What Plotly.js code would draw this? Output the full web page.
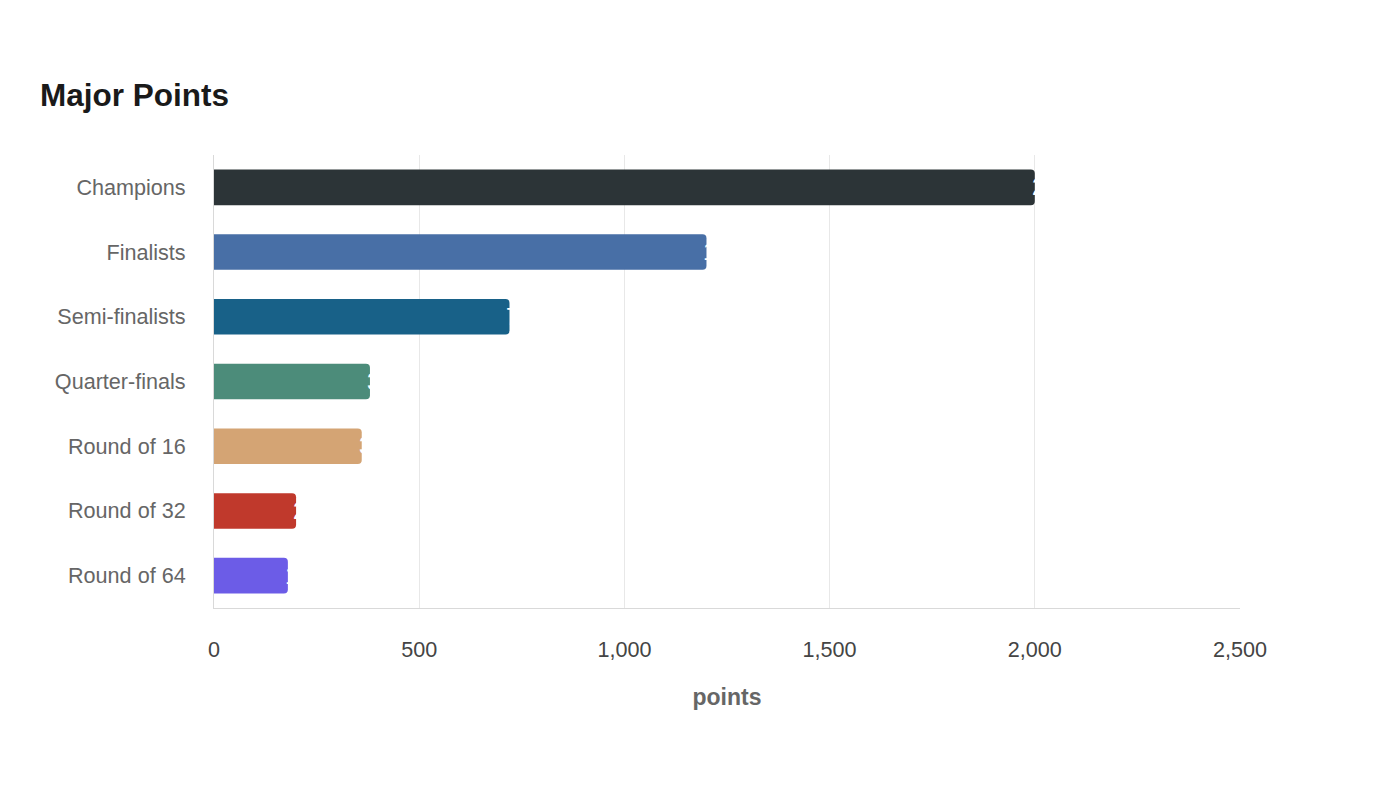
<!DOCTYPE html>
<html>
<head>
<meta charset="utf-8">
<script src="https://cdn.plot.ly/plotly-3.0.1.min.js"></script>
<style>html,body{margin:0;padding:0;background:#fff;}#chart{width:1400px;height:800px;}</style>
</head>
<body>
<div id="chart"></div>
<script>
const categories = ["Champions", "Finalists", "Semi-finalists", "Quarter-finals", "Round of 16", "Round of 32", "Round of 64"];
const pointsValues = [2000, 1200, 720, 380, 360, 200, 180];
const barColors = ["#2c3437", "#486fa6", "#186188", "#4c8c7a", "#d4a474", "#c0392c", "#6c5ce7"];
const xTickVals = [0, 500, 1000, 1500, 2000, 2500];

const trace = {
  type: "bar",
  orientation: "h",
  y: categories,
  x: pointsValues,
  marker: {color: barColors},
  cliponaxis: false,
  hoverinfo: "x+y"
};

// white value labels that start just inside each bar end
const valueLabels = categories.map((c, i) => ({
  x: pointsValues[i], y: c, xref: "x", yref: "y",
  text: String(pointsValues[i]), showarrow: false,
  xanchor: "left", yanchor: "middle", xshift: -4, borderpad: 0,
  font: {size: 23, color: "#ffffff", family: "Liberation Sans, Arial, sans-serif"}
}));

const layout = {
  width: 1400, height: 800,
  paper_bgcolor: "#ffffff", plot_bgcolor: "#ffffff",
  font: {family: "Liberation Sans, Arial, sans-serif", color: "#666666", size: 14},
  title: {text: "<b>Major Points</b>", x: 40/1400, xref: "container", xanchor: "left", y: 0.881, yref: "container", yanchor: "middle",
          font: {size: 31.5, color: "#1a1a1a"}},
  margin: {l: 214, r: 160, t: 155, b: 192},
  bargap: 0.45,
  barcornerradius: 4,
  showlegend: false,
  annotations: valueLabels,
  xaxis: {
    range: [0, 2500], tickvals: xTickVals, tickformat: ",d",
    showgrid: true, gridcolor: "#e8e8e8", gridwidth: 1,
    zeroline: false, showline: true, linecolor: "#d9d9d9", linewidth: 1,
    ticks: "", tickfont: {size: 21.6, color: "#444444"}, ticklabelstandoff: 22,
    title: {text: "<b>points</b>", font: {size: 23, color: "#666666"}, standoff: 27}
  },
  yaxis: {
    autorange: "reversed", showgrid: false, zeroline: false,
    showline: true, linecolor: "#d9d9d9", linewidth: 1,
    ticks: "", tickfont: {size: 21.6, color: "#666666"}, ticklabelstandoff: 23
  }
};

Plotly.newPlot("chart", [trace], layout, {displayModeBar: false});
</script>
</body>
</html>
